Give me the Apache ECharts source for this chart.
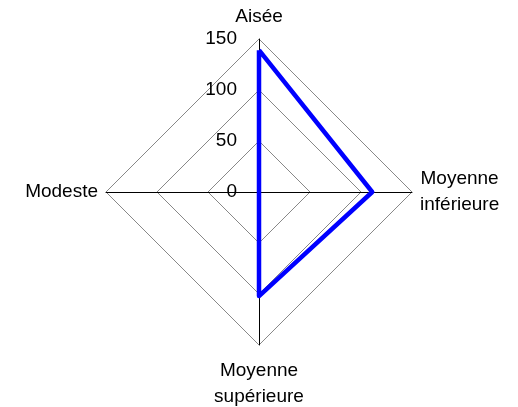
<!DOCTYPE html>
<html style="height: 100%">
<head>
    <meta charset="utf-8">
</head>
<body style="height: 100%; margin: 0; background: #fff">
<div id="container" style="width: 518px; height: 407px"></div>
<script src="https://cdn.jsdelivr.net/npm/echarts@6/dist/echarts.min.js"></script>
<script type="text/javascript">
    // indicators in ECharts order (counter-clockwise from the top)
    const categories = ['Aisée', 'Modeste', 'Moyenne\nsupérieure', 'Moyenne\ninférieure'];
    const values = [139, 0, 102, 111];
    const axisMax = 150;

    var dom = document.getElementById("container");
    var myChart = echarts.init(dom);

    const indicator = categories.map(function (name, i) {
        var item = {
            name: name,
            max: axisMax,
            min: 0,
            axisLabel: { show: i === 0 }
        };
        if (i === 2) item.nameGap = 13;  // bottom label sits a bit lower
        return item;
    });

    var option = {
        animation: false,
        radar: {
            center: [259, 192],
            radius: 153,
            shape: 'polygon',
            splitNumber: 3,
            indicator: indicator,
            axisName: {
                color: '#000',
                fontFamily: 'Liberation Sans',
                fontSize: 19,
                lineHeight: 26,
                formatter: function (v) {
                    if (v.indexOf('\n') < 0) return v;
                    return v.split('\n').map(function (s) { return '{c|' + s + '}'; }).join('\n');
                },
                rich: {
                    c: { align: 'center', fontSize: 19, lineHeight: 26, fontFamily: 'Liberation Sans', color: '#000' }
                }
            },
            nameGap: 8,
            axisLine: { lineStyle: { color: '#000', width: 1 } },
            splitLine: { lineStyle: { color: '#888', width: 1 } },
            splitArea: { show: false },
            axisTick: { show: false },
            axisLabel: {
                color: '#000',
                fontFamily: 'Liberation Sans',
                fontSize: 19,
                margin: 22
            }
        },
        series: [{
            type: 'radar',
            symbol: 'none',
            lineStyle: { color: '#0000ff', width: 4.5 },
            data: [{ value: values }]
        }]
    };

    myChart.setOption(option);
</script>
</body>
</html>
